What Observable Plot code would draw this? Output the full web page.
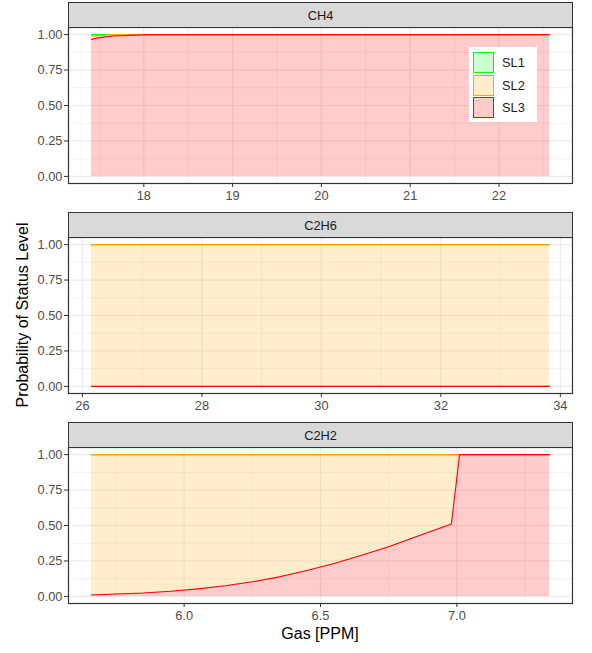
<!DOCTYPE html>
<html>
<head>
<meta charset="utf-8">
<script src="https://cdn.jsdelivr.net/npm/d3@7"></script>
<script src="https://cdn.jsdelivr.net/npm/@observablehq/plot@0.6"></script>
<style>
  body { margin: 0; background: #fff; font-family: "Liberation Sans", Arial, sans-serif; }
  #fig { position: relative; width: 592px; height: 653px; overflow: hidden; }
  .strip { position: absolute; left: 68px; width: 505px; height: 26px; box-sizing: border-box;
           background: #d9d9d9; border: 1.2px solid #333; font-size: 12.8px; color: #1a1a1a;
           display: flex; align-items: center; justify-content: center; }
  .panel { position: absolute; left: 0; }
  .ytitle { position: absolute; left: 23px; top: 315px; transform: translate(-50%, -50%) rotate(-90deg);
            white-space: nowrap; font-size: 16px; color: #000; }
  .xtitle { position: absolute; left: 320px; top: 634px; transform: translate(-50%, -50%);
            white-space: nowrap; font-size: 16px; color: #000; }
  .legend { position: absolute; left: 469px; top: 47px; width: 68px; height: 75px; background: #fff; }
  .key { position: absolute; left: 4px; width: 21px; height: 21px; box-sizing: border-box; border: 1.3px solid; }
  .klab { position: absolute; left: 33px; font-size: 12.8px; color: #1a1a1a; line-height: 21px; }
</style>
</head>
<body>
<div id="fig"></div>
<script>
// Status levels and their colours
const levels = ["SL1", "SL2", "SL3"];
const levelColors = ["#00ff00", "#ffa500", "#ff0000"];

// CH4 panel
const ch4Gas = [17.41, 17.47, 17.55, 17.65, 18.05, 22.57];
const ch4SL1 = [0.010, 0.007, 0.005, 0.000, 0.000, 0.000];
const ch4SL2 = [0.025, 0.018, 0.013, 0.010, 0.000, 0.000];
const ch4SL3 = [0.965, 0.975, 0.982, 0.990, 1.000, 1.000];
const ch4Ticks = [18, 19, 20, 21, 22];
const ch4Minor = [17.5, 18.5, 19.5, 20.5, 21.5, 22.5];

// C2H6 panel
const c2h6Gas = [26.15, 33.82];
const c2h6SL1 = [0, 0];
const c2h6SL2 = [1, 1];
const c2h6SL3 = [0, 0];
const c2h6Ticks = [26, 28, 30, 32, 34];
const c2h6Minor = [27, 29, 31, 33];

// C2H2 panel
const c2h2Gas = [5.66, 5.75, 5.85, 5.95, 6.05, 6.15, 6.25, 6.35, 6.45, 6.55, 6.65, 6.75, 6.85, 6.98, 7.01, 7.34];
const c2h2SL1 = [0, 0, 0, 0, 0, 0, 0, 0, 0, 0, 0, 0, 0, 0, 0, 0];
const c2h2SL2 = [0.990, 0.983, 0.976, 0.964, 0.947, 0.925, 0.897, 0.862, 0.817, 0.768, 0.710, 0.650, 0.580, 0.490, 0.000, 0.000];
const c2h2SL3 = [0.010, 0.017, 0.024, 0.036, 0.053, 0.075, 0.103, 0.138, 0.183, 0.232, 0.290, 0.350, 0.420, 0.510, 1.000, 1.000];
const c2h2Ticks = [6.0, 6.5, 7.0];
const c2h2Minor = [5.75, 6.25, 6.75, 7.25];

const yTicks = [0, 0.25, 0.5, 0.75, 1];
const yMinor = [0.125, 0.375, 0.625, 0.875];

const panels = [
  {name: "CH4", gas: ch4Gas, sl1: ch4SL1, sl2: ch4SL2, sl3: ch4SL3, ticks: ch4Ticks, minor: ch4Minor, fmt: d3.format("d"), top: 2},
  {name: "C2H6", gas: c2h6Gas, sl1: c2h6SL1, sl2: c2h6SL2, sl3: c2h6SL3, ticks: c2h6Ticks, minor: c2h6Minor, fmt: d3.format("d"), top: 212},
  {name: "C2H2", gas: c2h2Gas, sl1: c2h2SL1, sl2: c2h2SL2, sl3: c2h2SL3, ticks: c2h2Ticks, minor: c2h2Minor, fmt: d3.format(".1f"), top: 422}
];

const fig = document.getElementById("fig");
const font = '"Liberation Sans", Arial, sans-serif';

for (const p of panels) {
  // stacked rows: SL3 at the bottom, then SL2, then SL1
  const rows = p.gas.map((x, i) => {
    const c3 = p.sl3[i];
    const c2 = c3 + p.sl2[i];
    const c1 = c2 + p.sl1[i];
    return {x, c3, c2, c1};
  });
  const lo = d3.min(p.gas), hi = d3.max(p.gas), pad = (hi - lo) * 0.05;

  const strip = document.createElement("div");
  strip.className = "strip";
  strip.style.top = p.top + "px";
  strip.textContent = p.name;

  const chart = Plot.plot({
    width: 592,
    height: 186,
    marginLeft: 68,
    marginRight: 20,
    marginTop: 0,
    marginBottom: 30,
    style: {fontFamily: font, fontSize: "12.8px", background: "transparent", overflow: "visible"},
    x: {domain: [lo - pad, hi + pad]},
    y: {domain: [-0.05, 1.05]},
    marks: [
      Plot.gridX(p.minor, {stroke: "#ebebeb", strokeOpacity: 1, strokeWidth: 0.6}),
      Plot.gridY(yMinor, {stroke: "#ebebeb", strokeOpacity: 1, strokeWidth: 0.6}),
      Plot.gridX(p.ticks, {stroke: "#ebebeb", strokeOpacity: 1, strokeWidth: 1.2}),
      Plot.gridY(yTicks, {stroke: "#ebebeb", strokeOpacity: 1, strokeWidth: 1.2}),
      Plot.areaY(rows, {x: "x", y1: () => 0, y2: "c3", fill: levelColors[2], fillOpacity: 0.2}),
      Plot.areaY(rows, {x: "x", y1: "c3", y2: "c2", fill: levelColors[1], fillOpacity: 0.2}),
      Plot.areaY(rows, {x: "x", y1: "c2", y2: "c1", fill: levelColors[0], fillOpacity: 0.2}),
      Plot.lineY(rows, {x: "x", y: "c1", stroke: levelColors[0], strokeWidth: 1.1}),
      Plot.lineY(rows, {x: "x", y: "c2", stroke: levelColors[1], strokeWidth: 1.1}),
      Plot.lineY(rows, {x: "x", y: "c3", stroke: levelColors[2], strokeWidth: 1.1}),
      Plot.axisX(p.ticks, {tickSize: 4, tickPadding: 3, tickFormat: p.fmt, label: null, stroke: "#333", fill: "#4d4d4d"}),
      Plot.axisY(yTicks, {tickSize: 4, tickPadding: 2, tickFormat: d3.format(".2f"), label: null, stroke: "#333", fill: "#4d4d4d"}),
      Plot.frame({stroke: "#333", strokeWidth: 1.2})
    ]
  });
  chart.classList.add("panel");
  chart.style.top = (p.top + 25) + "px";
  fig.appendChild(chart);
  fig.appendChild(strip);
}

// legend inside the CH4 panel
const legend = document.createElement("div");
legend.className = "legend";
levels.forEach((lv, i) => {
  const key = document.createElement("div");
  key.className = "key";
  key.style.top = (5 + i * 22.5) + "px";
  key.style.borderColor = levelColors[i];
  key.style.background = d3.color(levelColors[i]).copy({opacity: 0.2}).formatRgb();
  const lab = document.createElement("div");
  lab.className = "klab";
  lab.style.top = (5 + i * 22.5) + "px";
  lab.textContent = lv;
  legend.appendChild(key);
  legend.appendChild(lab);
});
fig.appendChild(legend);

const yt = document.createElement("div");
yt.className = "ytitle";
yt.textContent = "Probability of Status Level";
fig.appendChild(yt);

const xt = document.createElement("div");
xt.className = "xtitle";
xt.textContent = "Gas [PPM]";
fig.appendChild(xt);
</script>
</body>
</html>
